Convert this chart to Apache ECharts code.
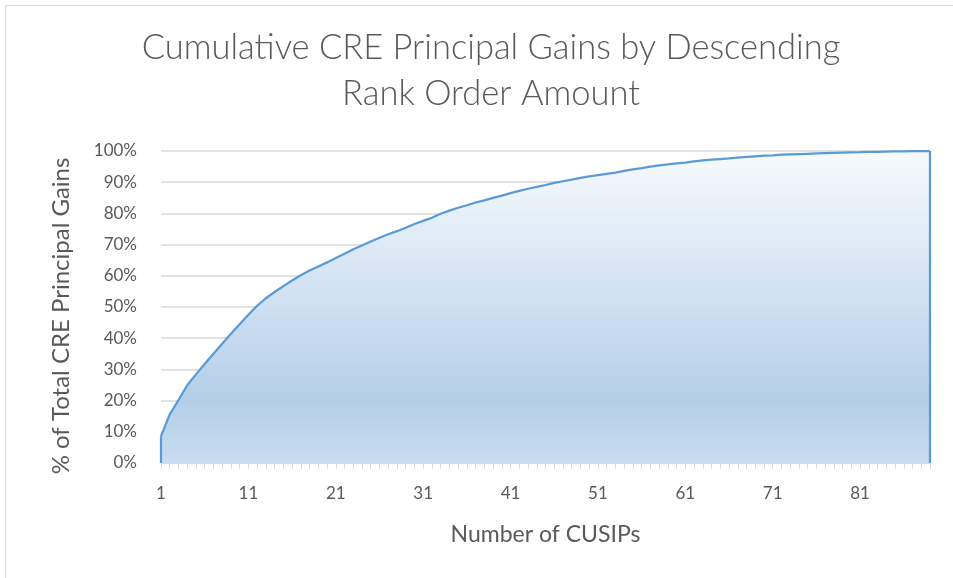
<!DOCTYPE html>
<html>
<head>
<meta charset="utf-8">
<script src="https://cdn.jsdelivr.net/npm/echarts@6/dist/echarts.min.js"></script>
<style>
html, body { margin:0; padding:0; background:#fff; }
#main { width:953px; height:578px; }
</style>
</head>
<body>
<div id="main"></div>
<script>
// rank order of CUSIPs (x axis)
var cusips = [];
for (var i = 1; i <= 89; i++) cusips.push(String(i));

// cumulative share of total CRE principal gains, in %
var gains = [
    8.6, 15.6, 20.2, 24.9, 28.4, 31.7, 35.0, 38.2, 41.4, 44.5,
    47.5, 50.4, 52.8, 54.8, 56.7, 58.5, 60.2, 61.7, 63.0, 64.3,
    65.7, 67.1, 68.5, 69.7, 71.0, 72.2, 73.3, 74.3, 75.4, 76.6,
    77.6, 78.6, 79.9, 80.9, 81.8, 82.6, 83.5, 84.2, 85.0, 85.7,
    86.5, 87.2, 87.9, 88.5, 89.1, 89.8, 90.3, 90.8, 91.4, 91.9,
    92.3, 92.7, 93.1, 93.6, 94.1, 94.5, 95.0, 95.4, 95.7, 96.0,
    96.3, 96.7, 97.0, 97.2, 97.4, 97.6, 97.9, 98.1, 98.3, 98.5,
    98.6, 98.8, 98.9, 99.0, 99.1, 99.2, 99.3, 99.4, 99.5, 99.55,
    99.6, 99.7, 99.75, 99.8, 99.85, 99.9, 99.95, 100, 100
];

var font = 'Lato';
var last = gains.length - 1;

var myChart = echarts.init(document.getElementById('main'));
var option = {
    backgroundColor: '#fff',
    animation: false,
    title: {
        text: 'Cumulative CRE Principal Gains by Descending\nRank Order Amount',
        left: 486,          // centre of the title, a bit right of the page centre
        top: 20,
        textAlign: 'center',
        textStyle: {
            fontFamily: font,
            fontWeight: 300,
            fontSize: 34.5,
            lineHeight: 46,
            color: '#595959'
        }
    },
    // outer chart border
    graphic: [{
        type: 'rect',
        shape: { x: 5.5, y: 5.5, width: 1000, height: 700 },
        style: { fill: null, stroke: '#d9d9d9', lineWidth: 1 },
        silent: true
    }],
    grid: {
        left: 161,
        right: 23,
        top: 151,
        bottom: 115
    },
    xAxis: {
        type: 'category',
        data: cusips,
        boundaryGap: false,
        name: 'Number of CUSIPs',
        nameLocation: 'middle',
        nameGap: 60,
        nameTextStyle: { fontFamily: font, fontSize: 23, color: '#595959' },
        axisLine: { lineStyle: { color: '#d9d9d9', width: 1.5 } },
        axisTick: { show: true, interval: 0, length: 6, lineStyle: { color: '#d9d9d9' } },
        axisLabel: {
            interval: 9,
            margin: 22,
            fontFamily: font,
            fontSize: 17,
            color: '#595959'
        },
        splitLine: { show: false }
    },
    yAxis: {
        type: 'value',
        min: 0,
        max: 100,
        interval: 10,
        name: '% of Total CRE Principal Gains',
        nameLocation: 'middle',
        nameGap: 88,
        nameTextStyle: { fontFamily: font, fontSize: 24, color: '#595959', padding: [0, 18, 0, 0] },
        axisLine: { show: false },
        axisTick: { show: false },
        axisLabel: {
            formatter: '{value}%',
            margin: 24,
            fontFamily: font,
            fontSize: 17,
            color: '#595959'
        },
        splitLine: { lineStyle: { color: '#d9d9d9', width: 1.5 } }
    },
    series: [{
        type: 'line',
        data: gains,
        symbol: 'none',
        lineStyle: { color: '#5b9bd5', width: 2.25 },
        areaStyle: {
            opacity: 1,
            color: new echarts.graphic.LinearGradient(0, 0, 0, 1, [
                { offset: 0, color: '#f7fafd' },
                { offset: 0.8, color: '#b4cfe9' },
                { offset: 1, color: '#c8dcef' }
            ])
        },
        // vertical edges of the area, as Excel draws them
        markLine: {
            silent: true,
            symbol: 'none',
            label: { show: false },
            lineStyle: { color: '#5b9bd5', width: 2.25, type: 'solid' },
            data: [
                [{ coord: [0, 0] }, { coord: [0, gains[0]] }],
                [{ coord: [last, 0] }, { coord: [last, gains[last]] }]
            ]
        }
    }]
};
myChart.setOption(option);
</script>
</body>
</html>
